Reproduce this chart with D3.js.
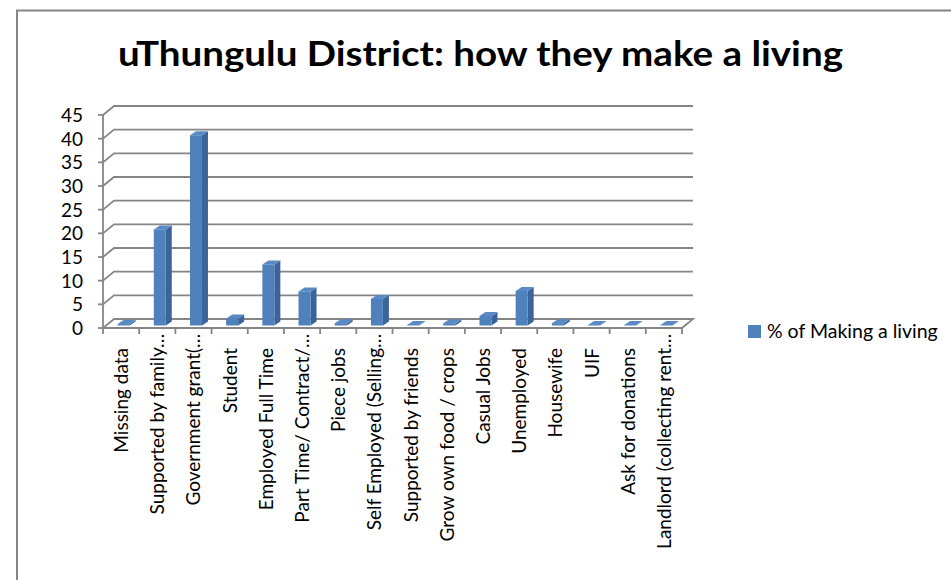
<!DOCTYPE html>
<html>
<head>
<meta charset="utf-8">
<script src="https://cdn.jsdelivr.net/npm/d3@7"></script>
<style>
  html, body { margin: 0; padding: 0; background: #fff; }
  svg { display: block; font-family: Lato, "Open Sans", sans-serif; }
</style>
</head>
<body>
<svg id="chart" width="951" height="580"></svg>
<script>
// Ways households in uThungulu District make a living (% of respondents)
const categories = [
  "Missing data", "Supported by family…", "Government grant(…", "Student",
  "Employed Full Time", "Part Time/ Contract/…", "Piece jobs", "Self Employed (Selling…",
  "Supported by friends", "Grow own food / crops", "Casual Jobs", "Unemployed",
  "Housewife", "UIF", "Ask for donations", "Landlord (collecting rent…"
];
const values = [0.3, 20.3, 40.2, 1.5, 12.9, 7.2, 0.5, 5.6, 0.1, 0.5, 2.0, 7.3, 0.5, 0.1, 0.1, 0.1];
const yTicks = [0, 5, 10, 15, 20, 25, 30, 35, 40, 45];
const seriesName = "% of Making a living";
const title = "uThungulu District: how they make a living";

const svg = d3.select("#chart");
const W = 951, H = 580;

// chart frame
svg.append("rect").attr("x", 17).attr("y", 10.5).attr("width", W + 20).attr("height", H + 20)
  .attr("fill", "#fff").attr("stroke", "#868686").attr("stroke-width", 2);

svg.append("text").attr("x", 118).attr("y", 66)
  .attr("font-size", 35).attr("font-weight", "bold").attr("fill", "#000")
  .attr("textLength", 725).attr("lengthAdjust", "spacingAndGlyphs")
  .text(title);

// 3D plot geometry: front plane plus a depth offset to the back wall
const DX = 11, DY = -9;
const x = d3.scaleBand().domain(categories).range([103, 682]);
const y = d3.scaleLinear().domain([0, 45]).range([328, 115]);
const x0 = x.range()[0], x1 = x.range()[1];

const grid = svg.append("g").attr("fill", "none").attr("stroke", "#858585").attr("stroke-width", 1.8);

// floor
grid.append("path")
  .attr("d", `M${x0},${y(0)}L${x1},${y(0)}L${x1 + DX},${y(0) + DY}L${x0 + DX},${y(0) + DY}Z`)
  .attr("fill", "#fff");

// gridlines on side wall and back wall
grid.selectAll("path.gl").data(yTicks.filter(t => t > 0)).join("path").attr("class", "gl")
  .attr("d", t => `M${x0},${y(t)}L${x0 + DX},${y(t) + DY}L${x1 + DX},${y(t) + DY}`);

// value axis
grid.append("line").attr("x1", x0).attr("x2", x0).attr("y1", y(45)).attr("y2", y(0));
grid.selectAll("line.yt").data(yTicks).join("line").attr("class", "yt")
  .attr("x1", x0 - 5).attr("x2", x0).attr("y1", d => y(d)).attr("y2", d => y(d));

svg.append("g").selectAll("text").data(yTicks).join("text")
  .attr("x", 83).attr("y", d => y(d)).attr("dy", "0.36em").attr("text-anchor", "end")
  .attr("font-size", 19).attr("fill", "#000").text(d => d);

// category axis ticks
const bounds = categories.map(c => x(c)).concat([x1]);
grid.selectAll("line.xt").data(bounds).join("line").attr("class", "xt")
  .attr("x1", d => d).attr("x2", d => d).attr("y1", y(0)).attr("y2", y(0) + 6);

// bars placed at mid depth
const BW = 12, BDX = 6, BDY = -4;
const offX = DX / 2 - BDX / 2, offY = DY / 2 - BDY / 2;
const bars = svg.append("g").selectAll("g").data(categories.map((c, i) => ({ c, v: values[i] }))).join("g");
bars.each(function (d) {
  const g = d3.select(this);
  const bx = x(d.c) + x.bandwidth() / 2 - BW / 2 + offX;
  const base = y(0) + offY;
  const top = y(d.v) + offY;
  g.append("path").attr("fill", "#3b649a")
    .attr("d", `M${bx + BW},${top}L${bx + BW + BDX},${top + BDY}L${bx + BW + BDX},${base + BDY}L${bx + BW},${base}Z`);
  g.append("path").attr("fill", "#5a8ac6")
    .attr("d", `M${bx},${top}L${bx + BDX},${top + BDY}L${bx + BW + BDX},${top + BDY}L${bx + BW},${top}Z`);
  g.append("rect").attr("x", bx).attr("y", top).attr("width", BW).attr("height", Math.max(0, base - top))
    .attr("fill", "#4f81bd");
});

// category labels, rotated
const LFS = 19;
const labels = svg.append("g").selectAll("text").data(categories).join("text")
  .attr("text-anchor", "end").attr("font-size", LFS).attr("fill", "#000")
  .text(d => d);
const ell = svg.append("text").attr("font-size", LFS).text("…");
const ellW = ell.node().getComputedTextLength();
ell.remove();
labels.attr("transform", d => {
  const cx = x(d) + x.bandwidth() / 2 + 7;
  const endY = 348 - (d.endsWith("…") ? ellW : 0);
  return `translate(${cx},${endY}) rotate(-90)`;
});

// legend
svg.append("rect").attr("x", 748).attr("y", 325).attr("width", 13).attr("height", 13).attr("fill", "#4f81bd");
svg.append("text").attr("x", 767).attr("y", 338).attr("font-size", 19.5).attr("fill", "#000").text(seriesName);
</script>
</body>
</html>
